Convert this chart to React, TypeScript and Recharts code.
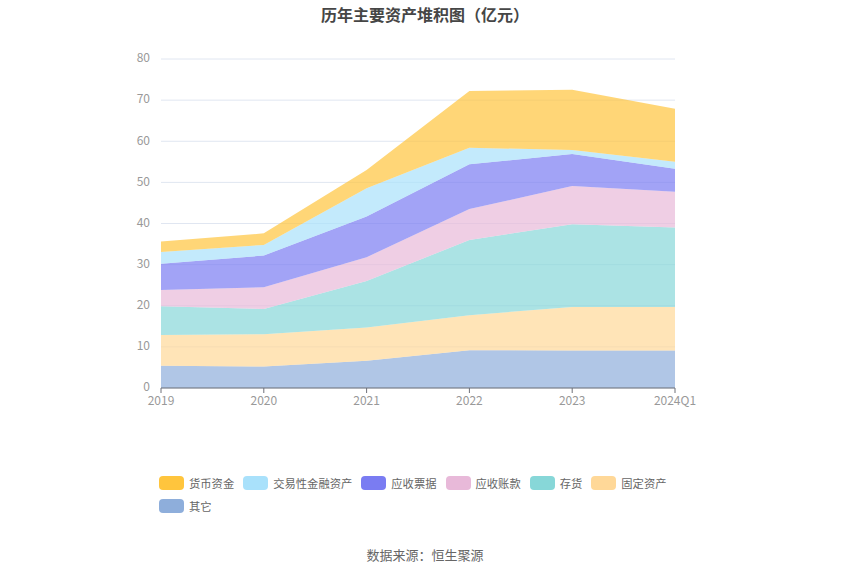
import React from "react";
import { AreaChart, Area, XAxis, YAxis, CartesianGrid } from "recharts";

const years = ["2019", "2020", "2021", "2022", "2023", "2024Q1"];

// 单位：亿元
const cash = [2.5, 2.8, 4.4, 13.8, 14.6, 12.9];          // 货币资金
const tradingAssets = [2.9, 2.6, 6.9, 4.0, 1.0, 1.7];    // 交易性金融资产
const notesReceivable = [6.4, 7.7, 9.9, 10.9, 7.8, 5.6]; // 应收票据
const accountsReceivable = [3.9, 5.3, 5.8, 7.5, 9.3, 8.7]; // 应收账款
const inventory = [7.0, 6.1, 11.3, 18.3, 20.1, 19.3];    // 存货
const fixedAssets = [7.5, 7.9, 8.1, 8.5, 10.6, 10.6];    // 固定资产
const others = [5.4, 5.2, 6.6, 9.2, 9.1, 9.1];           // 其它

const yTicks = [0, 10, 20, 30, 40, 50, 60, 70, 80];

// 图例顺序 = 顶部到底部
const SERIES = [
  { key: "cash", name: "货币资金", color: "#FFC53D", values: cash },
  { key: "trading", name: "交易性金融资产", color: "#A9E1FB", values: tradingAssets },
  { key: "notes", name: "应收票据", color: "#7A7CF2", values: notesReceivable },
  { key: "ar", name: "应收账款", color: "#E8B9D9", values: accountsReceivable },
  { key: "inv", name: "存货", color: "#87D7D8", values: inventory },
  { key: "fixed", name: "固定资产", color: "#FFD898", values: fixedAssets },
  { key: "other", name: "其它", color: "#8EAEDB", values: others },
];

const data = years.map((y, i) => {
  const row: Record<string, any> = { year: y };
  SERIES.forEach(s => { row[s.key] = s.values[i]; });
  return row;
});

const FONT = "'Noto Sans CJK SC', 'Noto Sans', sans-serif";

export default function App() {
  // 堆叠从底部开始绘制
  const stackOrder = [...SERIES].reverse();
  return (
    <div style={{ position: "absolute", left: 0, top: 0, width: 850, height: 575, background: "#fff", fontFamily: FONT }}>
      <div style={{ position: "absolute", top: 2, left: 0, width: 850, textAlign: "center", fontSize: 16, fontWeight: 700, color: "#464646" }}>
        历年主要资产堆积图（亿元）
      </div>
      <AreaChart width={850} height={575} data={data} margin={{ top: 59, right: 175, bottom: 157, left: 111 }}>
        <CartesianGrid horizontal vertical={false} stroke="#E0E6F1" />
        <XAxis dataKey="year" stroke="#6E7079" tickSize={5} tickMargin={3}
               tick={{ fill: "#999", fontSize: 12, fontFamily: FONT }} interval={0} />
        <YAxis domain={[0, 80]} ticks={yTicks} width={50} axisLine={false} tickLine={false}
               tick={{ fill: "#999", fontSize: 12, fontFamily: FONT, dy: -1 }} tickMargin={5} />
        {stackOrder.map(s => (
          <Area key={s.key} type="linear" dataKey={s.key} name={s.name} stackId="assets"
                fill={s.color} fillOpacity={0.7} stroke="none" isAnimationActive={false} />
        ))}
      </AreaChart>
      <div style={{ position: "absolute", left: 159, top: 474, width: 530, display: "flex", flexWrap: "wrap", rowGap: 6, fontSize: 11.3, color: "#666" }}>
        {SERIES.map(s => (
          <div key={s.key} style={{ display: "flex", alignItems: "center", marginRight: 9, height: 17 }}>
            <span style={{ display: "inline-block", width: 25, height: 14, borderRadius: 4, background: s.color, marginRight: 5 }} />
            <span>{s.name}</span>
          </div>
        ))}
      </div>
      <div style={{ position: "absolute", top: 545, left: 0, width: 850, textAlign: "center", fontSize: 13, color: "#666" }}>
        数据来源：恒生聚源
      </div>
    </div>
  );
}
